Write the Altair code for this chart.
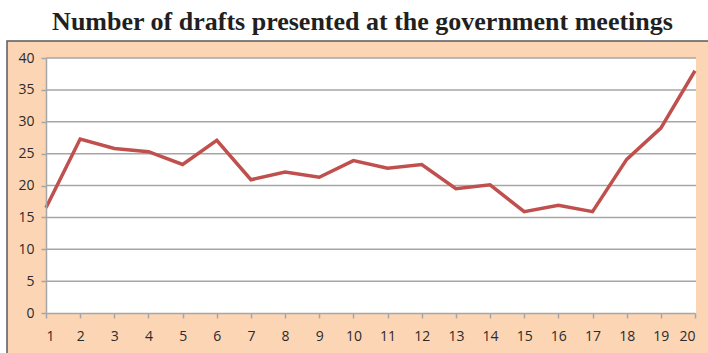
import altair as alt
import pandas as pd

meetings = [1, 2, 3, 4, 5, 6, 7, 8, 9, 10, 11, 12, 13, 14, 15, 16, 17, 18, 19, 20]
drafts = [16.5, 27.3, 25.8, 25.3, 23.3, 27.1, 20.9, 22.1, 21.3, 23.9,
          22.7, 23.3, 19.5, 20.1, 15.9, 16.9, 15.9, 24.1, 29.0, 38.0]
y_ticks = [0, 5, 10, 15, 20, 25, 30, 35, 40]
grid_values = [5, 10, 15, 20, 25, 30, 35, 40]
title_text = "Number of drafts presented at the government meetings"

W, H = 649, 255
PEACH = "#fcd5b5"
GRAY = "#a6a6a6"

df = pd.DataFrame({"meeting": meetings, "drafts": drafts})
one = pd.DataFrame({"k": [0]})

yscale = alt.Scale(domain=[0, 40], nice=False)
yaxis = alt.Axis(values=y_ticks, title=None, grid=False, zindex=1,
                 domainColor=GRAY, domainWidth=1.5, tickColor=GRAY, tickWidth=1.5,
                 tickSize=5, labelFont="Open Sans", labelFontSize=14,
                 labelColor="#2b2b2b", labelPadding=7)
xaxis = alt.Axis(values=meetings, title=None, grid=False, zindex=1, format="d",
                 labelAngle=0, domainColor=GRAY, domainWidth=1.5, tickColor=GRAY,
                 tickWidth=1.5, tickSize=5, labelFont="Open Sans", labelFontSize=14,
                 labelColor="#2b2b2b", labelPadding=11)

frame = alt.Chart(one).mark_rect(fill=PEACH, stroke="#595959", strokeWidth=1.5).encode(
    x=alt.value(-39), x2=alt.value(W + 40), y=alt.value(-17), y2=alt.value(H + 60)
)
plotbg = alt.Chart(one).mark_rect(fill="white").encode(
    x=alt.value(0), x2=alt.value(W + 1), y=alt.value(0), y2=alt.value(H)
)
grid = alt.Chart(pd.DataFrame({"g": grid_values})).mark_rule(
    color=GRAY, strokeWidth=1.5
).encode(
    y=alt.Y("g:Q", scale=yscale, axis=yaxis),
    x=alt.value(0), x2=alt.value(W + 1)
)
line = alt.Chart(df).mark_line(color="#c0504d", strokeWidth=3.5).encode(
    x=alt.X("meeting:Q", scale=alt.Scale(domain=[1, 20], nice=False), axis=xaxis),
    y=alt.Y("drafts:Q", scale=yscale, axis=yaxis),
)

chart = alt.layer(frame, plotbg, grid, line).properties(
    width=W, height=H,
    background="white",
    autosize=alt.AutoSizeParams(type="none"),
    padding={"left": 46, "top": 58, "right": 13, "bottom": 40},
    title=alt.TitleParams(text=title_text, font="Liberation Serif", fontSize=26,
                          fontWeight="bold", color="#231f20", anchor="middle",
                          dx=-8, offset=5),
).configure_view(stroke=None)

chart.save("out.html", embed_options={"renderer": "svg", "actions": False})
